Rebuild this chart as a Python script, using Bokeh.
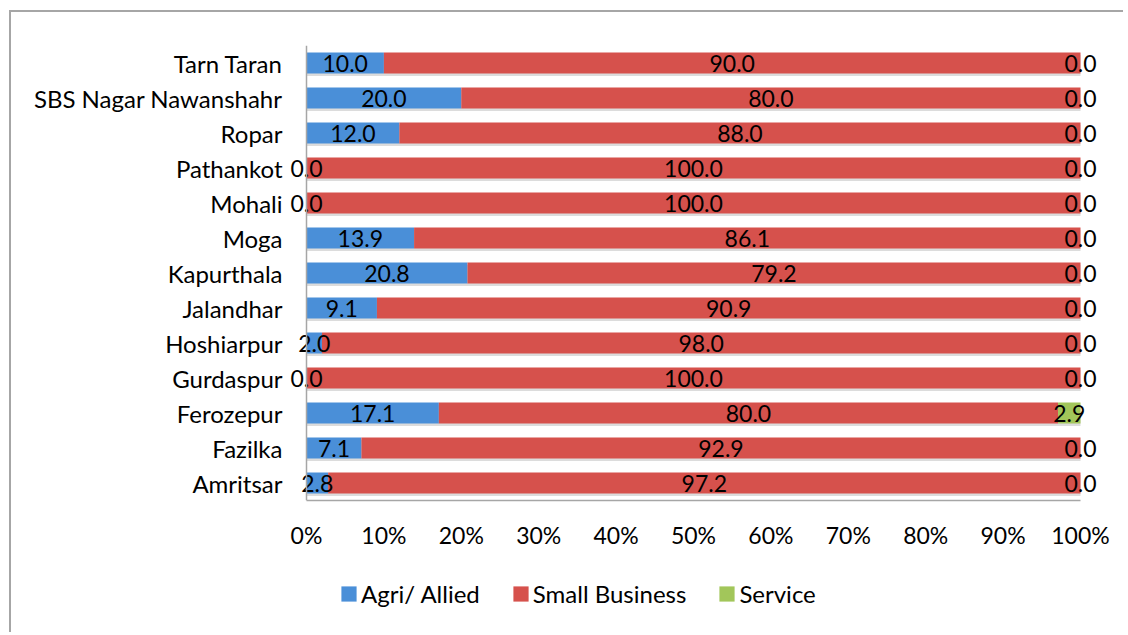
from bokeh.plotting import figure
from bokeh.layouts import column
from bokeh.models import (ColumnDataSource, FactorRange, Range1d, LabelSet, Legend,
                          LegendItem, FixedTicker, Span)
from bokeh.transform import dodge
from bokeh.core.properties import value
from bokeh.embed import file_html
from bokeh.resources import INLINE

# Data (bottom to top)
districts = ["Amritsar", "Fazilka", "Ferozepur", "Gurdaspur", "Hoshiarpur", "Jalandhar",
             "Kapurthala", "Moga", "Mohali", "Pathankot", "Ropar",
             "SBS Nagar Nawanshahr", "Tarn Taran"]
agri = [2.8, 7.1, 17.1, 0.0, 2.0, 9.1, 20.8, 13.9, 0.0, 0.0, 12.0, 20.0, 10.0]
small_business = [97.2, 92.9, 80.0, 100.0, 98.0, 90.9, 79.2, 86.1, 100.0, 100.0, 88.0, 80.0, 90.0]
service = [0.0, 0.0, 2.9, 0.0, 0.0, 0.0, 0.0, 0.0, 0.0, 0.0, 0.0, 0.0, 0.0]
series_names = ["Agri/ Allied", "Small Business", "Service"]
tick_values = [0, 10, 20, 30, 40, 50, 60, 70, 80, 90, 100]
tick_labels = ["0%", "10%", "20%", "30%", "40%", "50%", "60%", "70%", "80%", "90%", "100%"]

colors = ["#4a8fd8", "#d6514c", "#a2c65a"]
FONT = "Lato"
FS = "23px"

series = [agri, small_business, service]
left = [0.0] * len(districts)
lefts, rights = [], []
for s in series:
    lefts.append(list(left))
    left = [l + v for l, v in zip(left, s)]
    rights.append(list(left))

# frame: 0% at page x=306, 100% at page x=1080 -> 7.74 px per unit
pad = 17 / 7.74
p = figure(width=1112, height=560, output_backend="svg", toolbar_location=None,
           y_range=FactorRange(factors=districts), x_range=Range1d(-pad, 100 + pad),
           min_border_left=278, min_border_right=26, min_border_top=33, min_border_bottom=72)

p.outline_line_color = None
p.grid.visible = False

# shadow
shadow = ColumnDataSource(dict(cat=districts, l=[0] * len(districts), r=[100] * len(districts)))
p.hbar(y=dodge("cat", -0.07, range=p.y_range), left="l", right="r", height=0.6,
       source=shadow, fill_color="#9a9a9a", fill_alpha=0.35, line_color=None)

for i, s in enumerate(series):
    src = ColumnDataSource(dict(cat=districts, l=lefts[i], r=rights[i],
                                mid=[(a + b) / 2 for a, b in zip(lefts[i], rights[i])],
                                lbl=["%.1f" % v for v in s]))
    p.hbar(y="cat", left="l", right="r", height=0.6, source=src,
           fill_color=colors[i], line_color=None)
    labels = LabelSet(x="mid", y="cat", text="lbl", source=src, text_align="center",
                      text_baseline="middle", text_font=value(FONT), text_font_size=FS,
                      text_color="black")
    p.add_layout(labels)

p.add_layout(Span(location=0, dimension="height", line_color="#a6a6a6", line_width=1.5))

# axes
p.xaxis.ticker = FixedTicker(ticks=tick_values)
p.xaxis.major_label_overrides = {v: t for v, t in zip(tick_values, tick_labels)}
p.xaxis.bounds = (0, 100)
for ax in (p.xaxis[0], p.yaxis[0]):
    ax.axis_line_color = "#a6a6a6"
    ax.axis_line_width = 1.5
    ax.major_tick_line_color = None
    ax.minor_tick_line_color = None
    ax.major_label_text_font = FONT
    ax.major_label_text_color = "black"
p.yaxis.axis_line_color = None
p.xaxis.major_label_text_font_size = FS
p.yaxis.major_label_text_font_size = "24px"
p.xaxis.major_label_standoff = 14
p.yaxis.major_label_standoff = 1

# legend strip (its frame is aligned with the main frame by the column layout)
lg = figure(width=1112, height=60, output_backend="svg", toolbar_location=None,
            x_range=Range1d(0, 1), y_range=Range1d(0, 1),
            min_border_left=0, min_border_right=0, min_border_top=0, min_border_bottom=0)
lg.axis.visible = False
lg.grid.visible = False
lg.outline_line_color = None
proxy = ColumnDataSource(dict(y=[0.5], l=[0], r=[0]))
items = []
for n, c in zip(series_names, colors):
    r = lg.hbar(y="y", left="l", right="r", height=0.1, source=proxy,
                fill_color=c, line_color=None)
    items.append(LegendItem(label=n, renderers=[r]))
legend = Legend(items=items, orientation="horizontal", location=(50, 24), padding=0, margin=0,
                spacing=31, glyph_width=19, glyph_height=19, label_standoff=3,
                border_line_color=None, background_fill_alpha=0,
                label_text_font=FONT, label_text_font_size="24px", label_text_color="black")
lg.add_layout(legend)

layout = column(p, lg, spacing=0,
                styles={"margin-left": "9px", "margin-top": "10px",
                        "border-left": "2px solid #a6a6a6", "border-top": "2px solid #a6a6a6"})

open("out.html", "w").write(file_html(layout, INLINE))
